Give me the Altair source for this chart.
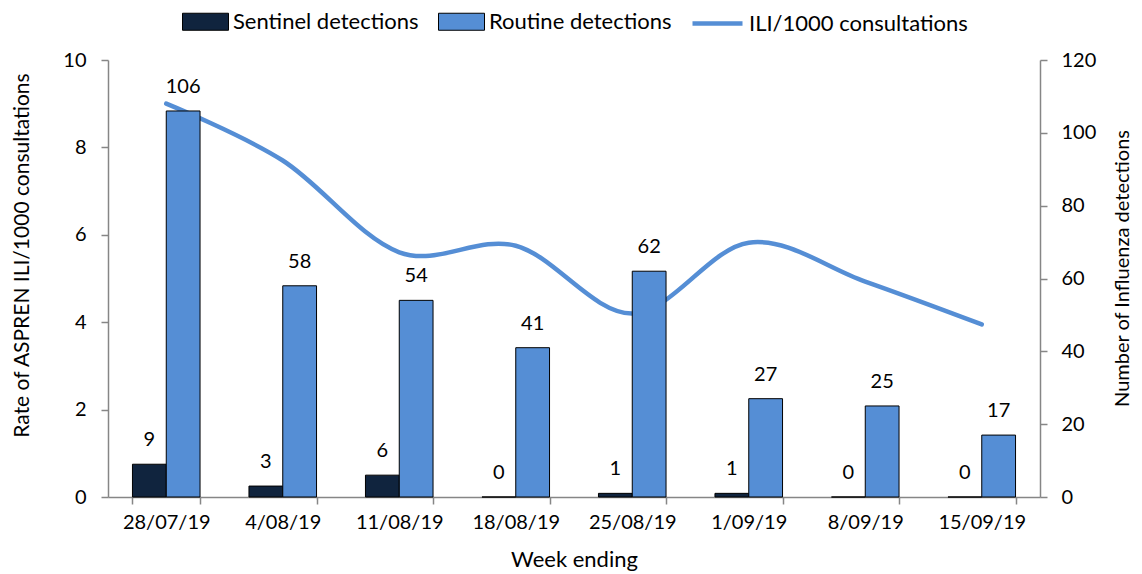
import altair as alt
import pandas as pd

weeks = ["28/07/19", "4/08/19", "11/08/19", "18/08/19", "25/08/19", "1/09/19", "8/09/19", "15/09/19"]
sentinel = [9, 3, 6, 0, 1, 1, 0, 0]
routine = [106, 58, 54, 41, 62, 27, 25, 17]
ili = [9.0, 7.7, 5.6, 5.75, 4.2, 5.82, 4.93, 3.95]

bar_series = ["Sentinel detections", "Routine detections"]
line_series = ["ILI/1000 consultations"]
left_ticks = [0, 2, 4, 6, 8, 10]
right_ticks = [0, 20, 40, 60, 80, 100, 120]

FONT = "Lato"
GREY = "#868686"
NAVY = "#10243E"
BLUE = "#558ED5"

df_bars = pd.DataFrame({
    "week": weeks * 2,
    "series": [bar_series[0]] * len(weeks) + [bar_series[1]] * len(weeks),
    "count": sentinel + routine,
})
df_line = pd.DataFrame({"week": weeks, "ili": ili, "series": line_series * len(weeks)})

x_enc = alt.X(
    "week:N",
    sort=weeks,
    scale=alt.Scale(domain=weeks, paddingInner=0.42, paddingOuter=0.21),
    axis=alt.Axis(
        title="Week ending", labelAngle=0, tickBand="extent", tickSize=7,
        labelPadding=8, labelFontSize=20, titleFontSize=22,
        titleY=62, titleBaseline="middle",
    ),
)
xoff = alt.XOffset("series:N", sort=bar_series,
                   scale=alt.Scale(domain=bar_series, paddingInner=0, paddingOuter=0))

right_axis = alt.Axis(orient="right", values=right_ticks, title="Number of Influenza detections",
                      tickSize=7, labelPadding=14, labelFontSize=20, titleFontSize=20,
                      titleX=82, titleY=208, titleAngle=270, titleBaseline="middle", titleAlign="center")
count_scale = alt.Scale(domain=[0, 120], nice=False)

line = alt.Chart(df_line).mark_line(interpolate="cardinal", strokeWidth=4.5, strokeCap="round").encode(
    x=x_enc,
    y=alt.Y("ili:Q", scale=alt.Scale(domain=[0, 10], nice=False),
            axis=alt.Axis(orient="left", values=left_ticks, title="Rate of ASPREN ILI/1000 consultations",
                          tickSize=7, labelPadding=15, labelFontSize=20, titleFontSize=21,
                          titleX=-86, titleY=195, titleAngle=270, titleBaseline="middle", titleAlign="center")),
    stroke=alt.Stroke("series:N", scale=alt.Scale(domain=line_series, range=[BLUE]),
                      legend=alt.Legend(orient="none", legendX=582, legendY=-64, title=None, padding=0,
                                        symbolType="stroke", symbolSize=2500, symbolStrokeWidth=4.5,
                                        labelFontSize=22, labelOffset=4, labelLimit=0,
                                        labelFont=FONT, labelColor="black")),
)

bars = alt.Chart(df_bars).mark_bar(stroke="black", strokeWidth=1).encode(
    x=x_enc,
    xOffset=xoff,
    y=alt.Y("count:Q", scale=count_scale, axis=right_axis),
    fill=alt.Fill("series:N", sort=bar_series, scale=alt.Scale(domain=bar_series, range=[NAVY, BLUE]),
                  legend=alt.Legend(orient="none", legendX=74, legendY=-62, title=None, padding=0,
                                    direction="horizontal", columns=2, columnPadding=17,
                                    symbolType="M-1,-0.37H1V0.37H-1Z", symbolSize=2116,
                                    symbolStrokeColor="black", symbolStrokeWidth=1,
                                    labelFontSize=22, labelOffset=4, labelLimit=0,
                                    labelFont=FONT, labelColor="black")),
)

labels = alt.Chart(df_bars).mark_text(dy=-24, fontSize=20, font=FONT, color="black", baseline="middle").encode(
    x=x_enc,
    xOffset=xoff,
    y=alt.Y("count:Q", scale=count_scale, axis=right_axis),
    text="count:Q",
)

chart = alt.layer(line, alt.layer(bars, labels)).resolve_scale(
    y="independent"
).properties(
    width=932, height=437,
    autosize=alt.AutoSizeParams(type="none"),
    padding={"left": 100, "top": 52, "right": 94, "bottom": 74},
).configure_view(stroke=None).configure_axis(
    grid=False, domainColor=GREY, tickColor=GREY, domainWidth=1.5, tickWidth=1.5,
    labelFont=FONT, titleFont=FONT, labelColor="black", titleColor="black", titleFontWeight="normal",
).configure_legend(labelFont=FONT)

chart.save("out.html", embed_options={"renderer": "svg", "actions": False})
